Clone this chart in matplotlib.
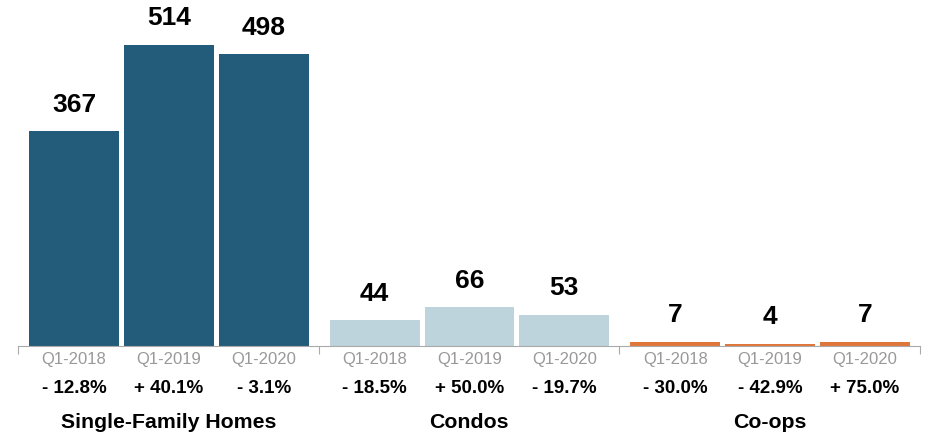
import matplotlib.pyplot as plt
from matplotlib.transforms import blended_transform_factory

plt.rcParams['font.family'] = ['Liberation Sans', 'DejaVu Sans']

groups = ['Single-Family Homes', 'Condos', 'Co-ops']
periods = ['Q1-2018', 'Q1-2019', 'Q1-2020']
values = [[367, 514, 498], [44, 66, 53], [7, 4, 7]]
changes = [['- 12.8%', '+ 40.1%', '- 3.1%'],
           ['- 18.5%', '+ 50.0%', '- 19.7%'],
           ['- 30.0%', '- 42.9%', '+ 75.0%']]
colors = ['#235B7A', '#BDD4DC', '#E0763A']

# layout in pixel-like units
group_w = 301
margin = 11
pitch = 95
bar_w = 90

fig = plt.figure(figsize=(9.3, 4.34), dpi=100)
ax = fig.add_axes([18 / 930, 88 / 434, 902 / 930, 346 / 434])
tr = blended_transform_factory(ax.transData, ax.transAxes)

for gi, (vals, col) in enumerate(zip(values, colors)):
    start = gi * group_w
    xs = [start + margin + bar_w / 2 + j * pitch for j in range(len(vals))]
    ax.bar(xs, vals, width=bar_w, color=col)
    for x, v, per, ch in zip(xs, vals, periods, changes[gi]):
        ax.annotate(str(v), (x, v), xytext=(0, 10.5), textcoords='offset points',
                    ha='center', va='bottom', fontsize=19, fontweight='bold')
        ax.text(x, -0.040, per, transform=tr, ha='center', va='center',
                fontsize=12, color='#999999')
        ax.text(x, -0.123, ch, transform=tr, ha='center', va='center',
                fontsize=13.5, fontweight='bold')
    ax.text(start + group_w / 2, -0.222, groups[gi], transform=tr,
            ha='center', va='center', fontsize=15.3, fontweight='bold')

ax.set_xlim(0, group_w * 3)
ax.set_ylim(0, 346 / (301 / 514))
for s in ['top', 'right', 'left']:
    ax.spines[s].set_visible(False)
ax.spines['bottom'].set_color('#aaaaaa')
ax.set_yticks([])
ax.set_xticks([group_w * i for i in range(4)])
ax.set_xticklabels([])
ax.tick_params(axis='x', length=6, color='#aaaaaa', direction='out')

fig.savefig('out.png', dpi=100)
